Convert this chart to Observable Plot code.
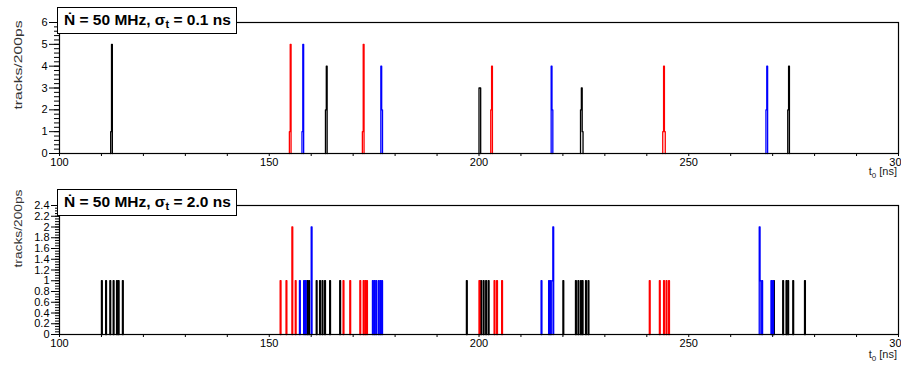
<!DOCTYPE html>
<html><head><meta charset="utf-8">
<script src="https://cdn.jsdelivr.net/npm/d3@7"></script>
<script src="https://cdn.jsdelivr.net/npm/@observablehq/plot@0.6"></script>
<style>
html,body{margin:0;padding:0;background:#fff;overflow:hidden;width:901px;height:367px}
.panel{position:relative;width:901px;overflow:hidden}
.title{position:absolute;left:57px;box-sizing:border-box;width:180px;height:27px;background:#fff;border:1.6px solid #000;
  font:bold 15.5px "Liberation Sans",Arial,sans-serif;line-height:24px;padding-left:6px;white-space:nowrap;color:#000}
.title sub{font-size:11px;vertical-align:-3px;line-height:0}
.xlab{position:absolute;right:4px;font:11px "Liberation Sans",Arial,sans-serif;color:#222;white-space:nowrap}
.xlab sub{font-size:8px;vertical-align:-3px;line-height:0}
</style></head><body>
<div id="top" class="panel" style="height:183px"></div>
<div id="bot" class="panel" style="height:184px"></div>
<script>
// ---- data: [t0 bin start (ns), tracks per 200 ps bin] ----
const binWidth = 0.2;
const topTitle = ["Ṅ = 50 MHz, σ", "t", " = 0.1 ns"];
const botTitle = ["Ṅ = 50 MHz, σ", "t", " = 2.0 ns"];
const xTickLabels = [100, 150, 200, 250, 300];
const topYTicks = [0, 1, 2, 3, 4, 5, 6];
const botYTicks = [0, 0.2, 0.4, 0.6, 0.8, 1, 1.2, 1.4, 1.6, 1.8, 2, 2.2, 2.4];

const topBlack = [[112.2,1],[112.4,5],[163.4,2],[163.6,4],[200.0,3],[200.2,3],[224.2,2],[224.4,3],[224.6,1],[273.6,2],[273.8,4]];
const topRed   = [[154.8,1],[155.0,5],[172.2,1],[172.4,5],[202.8,2],[203.0,4],[243.8,1],[244.0,4],[244.2,1]];
const topBlue  = [[157.8,1],[158.0,5],[176.6,4],[176.8,2],[217.2,4],[217.4,2],[268.4,2],[268.6,4]];

const botBlack = [[110.0,1],[111.0,1],[112.0,1],[112.8,1],[113.6,1],[114.0,1],[115.0,1],
  [159.0,1],[159.4,1],[161.2,1],[162.0,1],[162.6,1],[163.2,1],[164.4,1],[166.8,1],
  [197.0,1],[200.4,1],[201.0,1],[201.6,1],[202.2,1],
  [220.0,1],[223.0,1],[223.6,1],[224.2,1],[224.6,1],[225.4,1],[226.0,1],
  [270.2,1],[272.4,1],[273.2,1],[273.6,1],[274.8,1],[277.6,1]];
const botRed = [[152.6,1],[154.0,1],[155.4,2],[156.2,1],[167.6,1],[169.2,1],[171.6,1],[172.4,1],[172.8,1],[173.2,1],
  [200.0,1],[203.6,1],[204.2,1],[205.4,1],[240.6,1],[243.0,1],[244.0,1],[244.6,1],[245.2,1]];
const botBlue = [[157.2,1],[158.2,1],[158.6,1],[160.0,2],[174.6,1],[175.0,1],[175.4,1],[176.0,1],[176.4,1],[176.8,1],
  [214.8,1],[216.6,1],[217.0,1],[217.4,1],[217.6,2],[266.8,2],[267.0,1],[267.4,1],[269.6,1],[270.0,1]];

const colors = {black:"#000000", red:"#ff0000", blue:"#0000ff"};

// histogram outline (ROOT-style step line) built from the bins
function outline(bins, series) {
  const pts = []; let c = -1; let end = null;
  const s = bins.slice().sort((a,b)=>a[0]-b[0]);
  for (const [t,n] of s) {
    if (end === null || Math.abs(t - end) > 1e-6) {
      if (end !== null) pts.push({x:end, y:0, z:series+c, s:series});
      c++;
      pts.push({x:t, y:0, z:series+c, s:series});
    }
    pts.push({x:t, y:n, z:series+c, s:series});
    end = t + binWidth;
  }
  pts.push({x:end, y:0, z:series+c, s:series});
  return pts;
}

function fmt(d){ return String(+d.toFixed(1)); }

function panel(el, opts) {
  const {height, mt, mb, ymax, major, minorStep, majorSize, minorSize, series, ylabSize, ylabLen, ylabDy} = opts;
  const minor = d3.range(0, Math.round(ymax/minorStep)+1).map(i => i*minorStep);
  const lines = series.map(([bins,name]) =>
    Plot.line(outline(bins,name), {x:"x", y:"y", z:"z", stroke: colors[name], strokeWidth:1.3, curve:"step-after"}));
  const p = Plot.plot({
    width: 901, height, marginLeft: 59, marginRight: 3, marginTop: mt, marginBottom: mb,
    style: {fontFamily: "'Liberation Sans', Arial, sans-serif", fontSize: "11px", color:"#000", background:"#fff", overflow:"visible"},
    x: {domain: [100, 300]},
    y: {domain: [0, ymax]},
    marks: [
      ...lines,
      Plot.frame({stroke:"#000", strokeWidth:1.2}),
      Plot.axisX({ticks: d3.range(100, 301, 10), tickSize: 3, tickPadding: 2,
        tickFormat: d => xTickLabels.includes(d) ? String(d) : "", label: null, stroke:"#000"}),
      Plot.axisY({ticks: minor, tickSize: minorSize, tickFormat: () => "", label: null}),
      Plot.axisY({ticks: major, tickSize: majorSize, tickPadding: 2, tickFormat: fmt, label: null, fontSize: 11}),
      Plot.text(["tracks/200ps"], {frameAnchor:"top-left", rotate:-90, textAnchor:"end", dx:-45, dy: ylabDy, fontSize: ylabSize, fill:"#333", className:"ylab"})
    ]
  });
  el.appendChild(p);
  d3.select(p).selectAll(".ylab text").attr("textLength", ylabLen).attr("lengthAdjust","spacingAndGlyphs");
}

panel(document.getElementById("top"), {height:183, mt:22, mb:30, ymax:6, major: topYTicks, minorStep:0.2,
  majorSize:10, minorSize:5, ylabSize:11, ylabLen:89, ylabDy:-2,
  series:[[topBlack,"black"],[topRed,"red"],[topBlue,"blue"]]});
panel(document.getElementById("bot"), {height:184, mt:22, mb:33, ymax:2.4, major: botYTicks, minorStep:0.05,
  majorSize:8, minorSize:4, ylabSize:10.5, ylabLen:78, ylabDy:-16,
  series:[[botBlack,"black"],[botRed,"red"],[botBlue,"blue"]]});

function addTitle(el, parts, top) {
  const d = document.createElement("div"); d.className = "title"; d.style.top = top + "px";
  d.append(parts[0]); const s = document.createElement("sub"); s.textContent = parts[1]; d.append(s); d.append(parts[2]);
  el.appendChild(d);
}
function addXLab(el, top) {
  const d = document.createElement("div"); d.className = "xlab"; d.style.top = top + "px";
  d.append("t"); const s = document.createElement("sub"); s.textContent = "0"; d.append(s); d.append(" [ns]");
  el.appendChild(d);
}
addTitle(document.getElementById("top"), topTitle, 7);
addTitle(document.getElementById("bot"), botTitle, 6);
addXLab(document.getElementById("top"), 165);
addXLab(document.getElementById("bot"), 165);
</script>
</body></html>
